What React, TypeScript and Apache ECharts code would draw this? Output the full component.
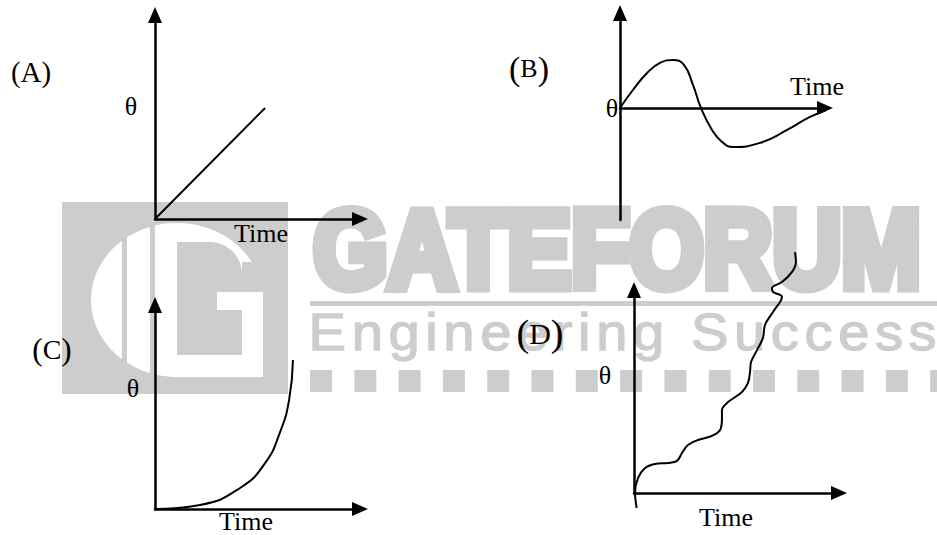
import React, { useEffect, useRef } from "react";
import * as echarts from "echarts";

// ---------- data ----------
const panelLabels = ["A", "B", "C", "D"];
const angleLabel = "θ";
const timeLabel = "Time";
const brandName = "GATEFORUM";
const brandSlogan = "Engineering Success";

// (A) theta grows linearly with time
const seriesA = [
  [0, 0],
  [5.37, 5.44],
];
// (B) damped oscillation
const seriesB = [
  [0, 0], [0.63, 1.89], [1.32, 3.68], [1.95, 4.74], [2.59, 5.05], [3.12, 4.53],
  [3.56, 2.42], [3.95, 0], [4.49, -2.32], [4.98, -3.58], [5.51, -4.1],
  [6.83, -3.68], [8.15, -2.32], [9.27, -0.95], [10.34, 0],
];
// (C) exponential-like rise
const seriesC = [
  [0, 0], [2.2, 0.2], [4.15, 1.03], [5.37, 2.25], [6.1, 3.77], [6.54, 5.34], [6.73, 7.3],
];
// (D) wavy rising curve
const seriesD = [
  [0.13, -0.74], [0.05, 0], [0.2, 0.74], [0.54, 1.23], [1.02, 1.43], [1.66, 1.48],
  [2.1, 1.58], [2.34, 1.97], [2.63, 2.36], [3.12, 2.61], [3.8, 2.81], [4.2, 3.1],
  [4.29, 3.69], [4.29, 4.09], [4.59, 4.48], [5.27, 4.98], [5.56, 5.42], [5.66, 5.96],
  [5.71, 6.45], [6.0, 7.04], [6.29, 7.64], [6.39, 8.28], [6.78, 8.92], [7.22, 9.66],
  [6.78, 9.9], [6.73, 10.1], [7.22, 10.39], [7.71, 10.89], [7.9, 11.38], [7.85, 11.87],
];
const xRange = [0, 10];
const yRanges = [
  [0, 10],
  [-11.8, 10],
  [0, 10],
  [0, 10],
];

// ---------- layout ----------
const grids = [
  { left: 155, top: 15, width: 205, height: 204 },
  { left: 620, top: 13, width: 205, height: 207 },
  { left: 155, top: 305, width: 205, height: 204 },
  { left: 634, top: 290, width: 205, height: 203 },
];
const panelLabelPos = [
  { x: 31, y: 72, p: 29, l: 29 },
  { x: 529, y: 68, p: 34, l: 26 },
  { x: 52, y: 349, p: 31, l: 28 },
  { x: 540, y: 333, p: 38, l: 30 },
];
const thetaPos = [
  { x: 131, y: 106 },
  { x: 612, y: 108 },
  { x: 133, y: 388 },
  { x: 605, y: 375 },
];
const timePos = [
  { x: 261, y: 233 },
  { x: 817, y: 86 },
  { x: 246, y: 521 },
  { x: 726, y: 517 },
];

const GRAY = "#cdcdcd";
const SERIF = "'Liberation Serif', 'Times New Roman', serif";
const SANS = "'Liberation Sans', Arial, sans-serif";

function buildWatermark(): any[] {
  const els: any[] = [];
  const z = 1;
  // logo
  els.push({ type: "rect", z, shape: { x: 62, y: 202, width: 226, height: 192 }, style: { fill: GRAY } });
  els.push({ type: "ellipse", z, shape: { cx: 177, cy: 300, rx: 86, ry: 77 }, style: { fill: "#fff" } });
  els.push({ type: "rect", z, shape: { x: 177, y: 300, width: 86, height: 77 }, style: { fill: "#fff" } });
  els.push({ type: "rect", z, shape: { x: 242, y: 262, width: 46, height: 30 }, style: { fill: GRAY } });
  els.push({ type: "rect", z, shape: { x: 177, y: 242, width: 65, height: 113, r: [0, 32, 0, 0] }, style: { fill: GRAY } });
  els.push({ type: "rect", z, shape: { x: 217, y: 292, width: 46, height: 18 }, style: { fill: "#fff" } });
  els.push({ type: "rect", z, shape: { x: 122, y: 210, width: 5, height: 180 }, style: { fill: GRAY } });
  els.push({ type: "rect", z, shape: { x: 150, y: 210, width: 5, height: 180 }, style: { fill: GRAY } });

  const ctx = document.createElement("canvas").getContext("2d") as CanvasRenderingContext2D;

  // brand name (heavy, condensed)
  const bSize = 110;
  const bStroke = 11;
  ctx.font = `bold ${bSize}px 'Liberation Sans'`;
  const m = ctx.measureText(brandName);
  const inkW = m.actualBoundingBoxLeft + m.actualBoundingBoxRight;
  const s = 608 / (inkW + bStroke);
  const ox = 312 + (m.actualBoundingBoxLeft + bStroke / 2) * s;
  els.push({
    type: "text", z, x: ox, y: 293 - bStroke / 2 - 0.3465 * bSize, scaleX: s,
    style: {
      text: brandName, font: `bold ${bSize}px ${SANS}`, fill: GRAY, stroke: GRAY,
      lineWidth: bStroke, lineJoin: "round",
      align: "left", verticalAlign: "middle", textAlign: "left", textVerticalAlign: "middle",
    },
  });

  // rule
  els.push({ type: "rect", z, shape: { x: 310, y: 301, width: 627, height: 5 }, style: { fill: GRAY } });

  // slogan, evenly spaced letters
  const tSize = 51;
  const sx = 1.1;
  ctx.font = `${tSize}px 'Liberation Sans'`;
  const chars = brandSlogan.split("");
  const adv = chars.map((c) => ctx.measureText(c).width * sx);
  const first = ctx.measureText(chars[0]);
  const last = ctx.measureText(chars[chars.length - 1]);
  const origin0 = 313 + first.actualBoundingBoxLeft * sx;
  let sumAdv = 0;
  for (let i = 0; i < chars.length - 1; i++) sumAdv += adv[i];
  const ls = (935 - last.actualBoundingBoxRight * sx - origin0 - sumAdv) / (chars.length - 1);
  let cx = origin0;
  chars.forEach((c, i) => {
    if (c !== " ") {
      els.push({
        type: "text", z, x: cx, y: 350 - 0.3465 * tSize, scaleX: sx,
        style: {
          text: c, font: `${tSize}px ${SANS}`, fill: GRAY, stroke: GRAY, lineWidth: 1.3,
          align: "left", verticalAlign: "middle", textAlign: "left", textVerticalAlign: "middle",
        },
      });
    }
    cx += adv[i] + ls;
  });

  // square row
  for (let i = 0; i < 15; i++) {
    const x = 310 + i * 44.3;
    els.push({ type: "rect", z, shape: { x, y: 370, width: Math.min(22, 937 - x), height: 22 }, style: { fill: GRAY } });
  }
  return els;
}

function buildLabels(): any[] {
  const els: any[] = [];
  panelLabels.forEach((lab, i) => {
    const p = panelLabelPos[i];
    els.push({
      type: "text", z: 20, x: p.x, y: p.y,
      style: {
        text: `{p|(}{l|${lab}}{p|)}`,
        rich: {
          p: { fontSize: p.p, fontFamily: SERIF, fill: "#000", color: "#000" },
          l: { fontSize: p.l, fontFamily: SERIF, fill: "#000", color: "#000" },
        },
        fill: "#000",
        align: "center", verticalAlign: "middle", textAlign: "center", textVerticalAlign: "middle",
      },
    });
    els.push({
      type: "text", z: 20, x: thetaPos[i].x, y: thetaPos[i].y,
      style: {
        text: angleLabel, font: `26px ${SERIF}`, fill: "#000",
        align: "center", verticalAlign: "middle", textAlign: "center", textVerticalAlign: "middle",
      },
    });
    els.push({
      type: "text", z: 20, x: timePos[i].x, y: timePos[i].y,
      style: {
        text: timeLabel, font: `26px ${SERIF}`, fill: "#000",
        align: "center", verticalAlign: "middle", textAlign: "center", textVerticalAlign: "middle",
      },
    });
  });
  return els;
}

const axisLine = {
  show: true,
  onZero: true,
  symbol: ["none", "triangle"],
  symbolSize: [14, 16],
  lineStyle: { color: "#000", width: 2.5 },
};

export default function App() {
  const ref = useRef<HTMLDivElement>(null);
  useEffect(() => {
    if (!ref.current) return;
    const chart = echarts.init(ref.current, null, { renderer: "svg" });
    const allSeries = [seriesA, seriesB, seriesC, seriesD];
    chart.setOption({
      animation: false,
      backgroundColor: "#fff",
      grid: grids.map((g) => ({ ...g, containLabel: false })),
      xAxis: grids.map((_, i) => ({
        type: "value",
        gridIndex: i,
        min: xRange[0],
        max: xRange[1],
        z: 5,
        axisLine,
        axisTick: { show: false },
        axisLabel: { show: false },
        splitLine: { show: false },
      })),
      yAxis: grids.map((_, i) => ({
        type: "value",
        gridIndex: i,
        min: yRanges[i][0],
        max: yRanges[i][1],
        z: 5,
        axisLine,
        axisTick: { show: false },
        axisLabel: { show: false },
        splitLine: { show: false },
      })),
      series: allSeries.map((d, i) => ({
        type: "line",
        xAxisIndex: i,
        yAxisIndex: i,
        data: d,
        symbol: "none",
        showSymbol: false,
        smooth: i === 0 ? false : i === 3 ? 0.35 : 0.5,
        clip: false,
        silent: true,
        z: 6,
        lineStyle: { color: "#000", width: 2 },
      })),
      graphic: { elements: [...buildWatermark(), ...buildLabels()] },
    });
    return () => chart.dispose();
  }, []);
  return (
    <div
      ref={ref}
      style={{ position: "fixed", left: 0, top: 0, width: 937, height: 535, background: "#fff" }}
    />
  );
}
